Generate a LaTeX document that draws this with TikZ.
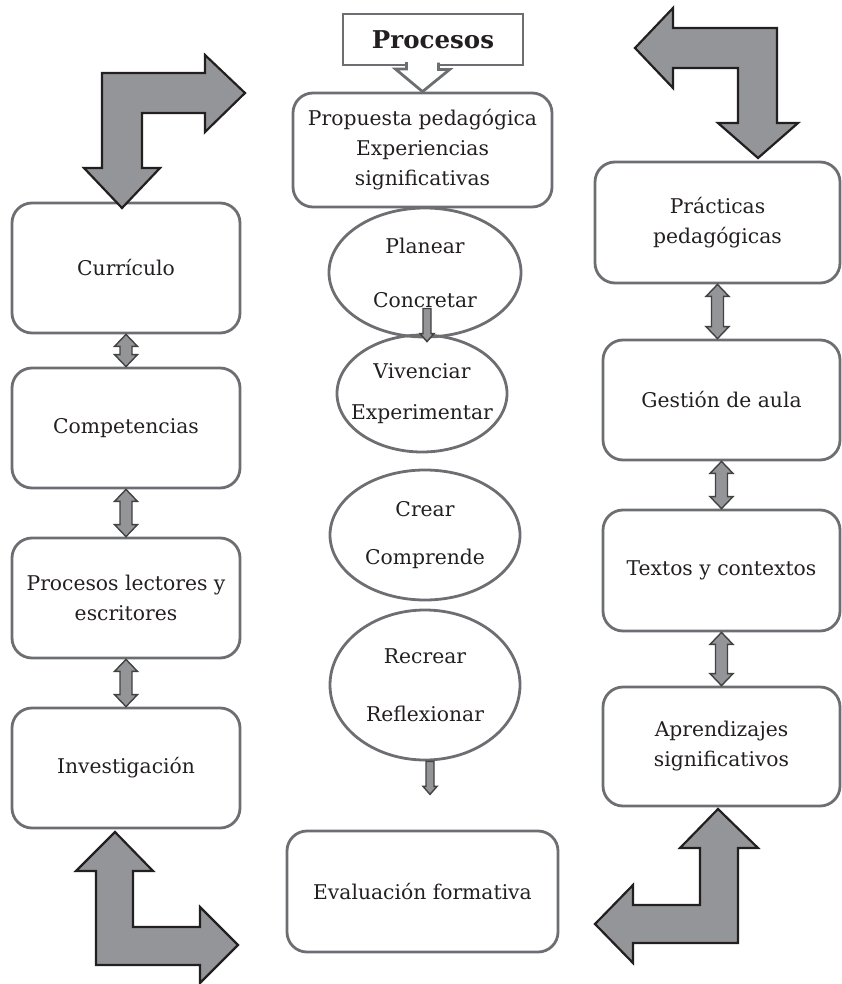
\documentclass[tikz,border=0pt]{standalone}
\usepackage{fontspec}
\setmainfont{DejaVu Serif}
\usetikzlibrary{shapes.geometric,calc}

\definecolor{boxgray}{HTML}{6D6E71}
\definecolor{arrowgray}{HTML}{939598}
\definecolor{inkdark}{HTML}{231F20}

\newcommand{\dblarr}[2]{%
  \filldraw[smallarr] let \p1=(#1), \p2=(#2) in
    (\x1,\y1) -- (\x1+11.5pt,\y1-12pt) -- (\x1+6pt,\y1-12pt) -- (\x1+6pt,\y2+12pt)
    -- (\x1+11.5pt,\y2+12pt) -- (\x1,\y2) -- (\x1-11.5pt,\y2+12pt) -- (\x1-6pt,\y2+12pt)
    -- (\x1-6pt,\y1-12pt) -- (\x1-11.5pt,\y1-12pt) -- cycle;}
\newcommand{\downarr}[2]{%
  \filldraw[smallarr] let \p1=(#1), \p2=(#2) in
    (\x1-4pt,\y1) -- (\x1+4pt,\y1) -- (\x1+4pt,\y2+8pt) -- (\x1+7pt,\y2+8pt)
    -- (\x1,\y2) -- (\x1-7pt,\y2+8pt) -- (\x1-4pt,\y2+8pt) -- cycle;}

\begin{document}
\begin{tikzpicture}[x=1pt,y=-1pt,
  font=\fontsize{20.3}{30}\selectfont, text=inkdark,
  rbox/.style={draw=boxgray,line width=2.8pt,rounded corners=20pt,align=center,
    inner sep=0pt,minimum height=120pt},
  lbox/.style={rbox,minimum width=228pt},
  qbox/.style={rbox,minimum width=237pt},
  ell/.style={ellipse,draw=boxgray,line width=2.8pt,align=center,
    inner xsep=-16pt,inner ysep=0pt},
  procbox/.style={draw=boxgray,line width=2.8pt,fill=white,minimum width=180pt,
    minimum height=51pt,inner sep=0pt,font=\fontsize{24.5}{28}\selectfont\bfseries},
  bigarr/.style={fill=arrowgray,draw=inkdark,line width=2.2pt,line join=miter},
  smallarr/.style={fill=arrowgray,draw=inkdark!85,line width=1.4pt,line join=miter}]
\useasboundingbox (0,0) rectangle (841,984);

\node[lbox,minimum height=130pt] (cur) at (126,268) {Currículo};
\node[lbox] (com) at (126,428) {Competencias};
\node[lbox] (pro) at (126,598) {Procesos lectores y\\escritores};
\node[lbox] (inv) at (126,768) {Investigación};

\node[rbox,minimum width=245pt,minimum height=121pt] (pra) at (717.5,222.5) {Prácticas\\pedagógicas};
\node[qbox] (ges) at (721.5,400) {Gestión de aula};
\node[qbox,minimum height=121pt] (tex) at (721.5,570.5) {Textos y contextos};
\node[qbox,minimum height=119pt] (apr) at (721.5,746.5) {Aprendizajes\\significativos};

\node[procbox] (proc) at (433,39.5) {Procesos};
\node[rbox,minimum width=259pt,minimum height=114pt] (prop) at (422.5,150)
  {Propuesta pedagógica\\Experiencias\\significativas};
\node[ell,minimum width=192pt,minimum height=129pt] (pla) at (425,272.5) {Planear\\[24pt]Concretar};
\node[ell,minimum width=170pt,minimum height=117pt] (viv) at (422,393.5) {Vivenciar\\[11pt]Experimentar};
\node[ell,minimum width=190pt,minimum height=130pt] (cre) at (425,535) {Crear\\[18pt]Comprende};
\node[ell,minimum width=190pt,minimum height=150pt] (rec) at (425,685) {Recrear\\[28pt]Reflexionar};
\node[rbox,minimum width=271pt,minimum height=121pt] (eva) at (422.5,891.5) {Evaluación formativa};

% callout arrow of the title
\coordinate (tip) at (prop.north);
\fill[white] ($(tip)+(-16,-31)$) rectangle ($(tip)+(16,-24)$);
\draw[draw=boxgray,line width=2.8pt,line join=miter] ($(tip)+(-16,-29.5)$) -- ++(0,7) -- ++(-11,0)
  -- (tip) -- ++(27,-22) -- ++(-11,0) -- ++(0,-7);

\dblarr{cur.south}{com.north}
\dblarr{com.south}{pro.north}
\dblarr{pro.south}{inv.north}
\dblarr{pra.south}{ges.north}
\dblarr{ges.south}{tex.north}
\dblarr{tex.south}{apr.north}

\coordinate (c1) at ($(pla.center)+(2,36)$);
\coordinate (c2) at ($(rec.south)+(5,33)$);
\downarr{c1}{[yshift=-8pt]viv.north}
\downarr{[xshift=5pt]rec.south}{c2}

% corner arrows
\filldraw[bigarr] (122,208) -- (160,168) -- (142,168) -- (142,113) -- (205,113) -- (205,132)
  -- (245,93) -- (205,55) -- (205,73) -- (102,73) -- (102,168) -- (84,168) -- cycle;
\filldraw[bigarr] (758,158) -- (798,123) -- (777,123) -- (777,28) -- (673,28) -- (673,8)
  -- (635,48) -- (673,88) -- (673,68) -- (738,68) -- (738,123) -- (718,123) -- cycle;
\filldraw[bigarr] (115,832) -- (153,871) -- (133,871) -- (133,927) -- (200,927) -- (200,907)
  -- (238,945) -- (200,983) -- (200,965) -- (96,965) -- (96,871) -- (76,871) -- cycle;
\filldraw[bigarr] (718,809) -- (758,848) -- (738,848) -- (738,943) -- (633,943) -- (633,963)
  -- (595,924) -- (633,885) -- (633,905) -- (700,905) -- (700,848) -- (680,848) -- cycle;
\end{tikzpicture}
\end{document}
